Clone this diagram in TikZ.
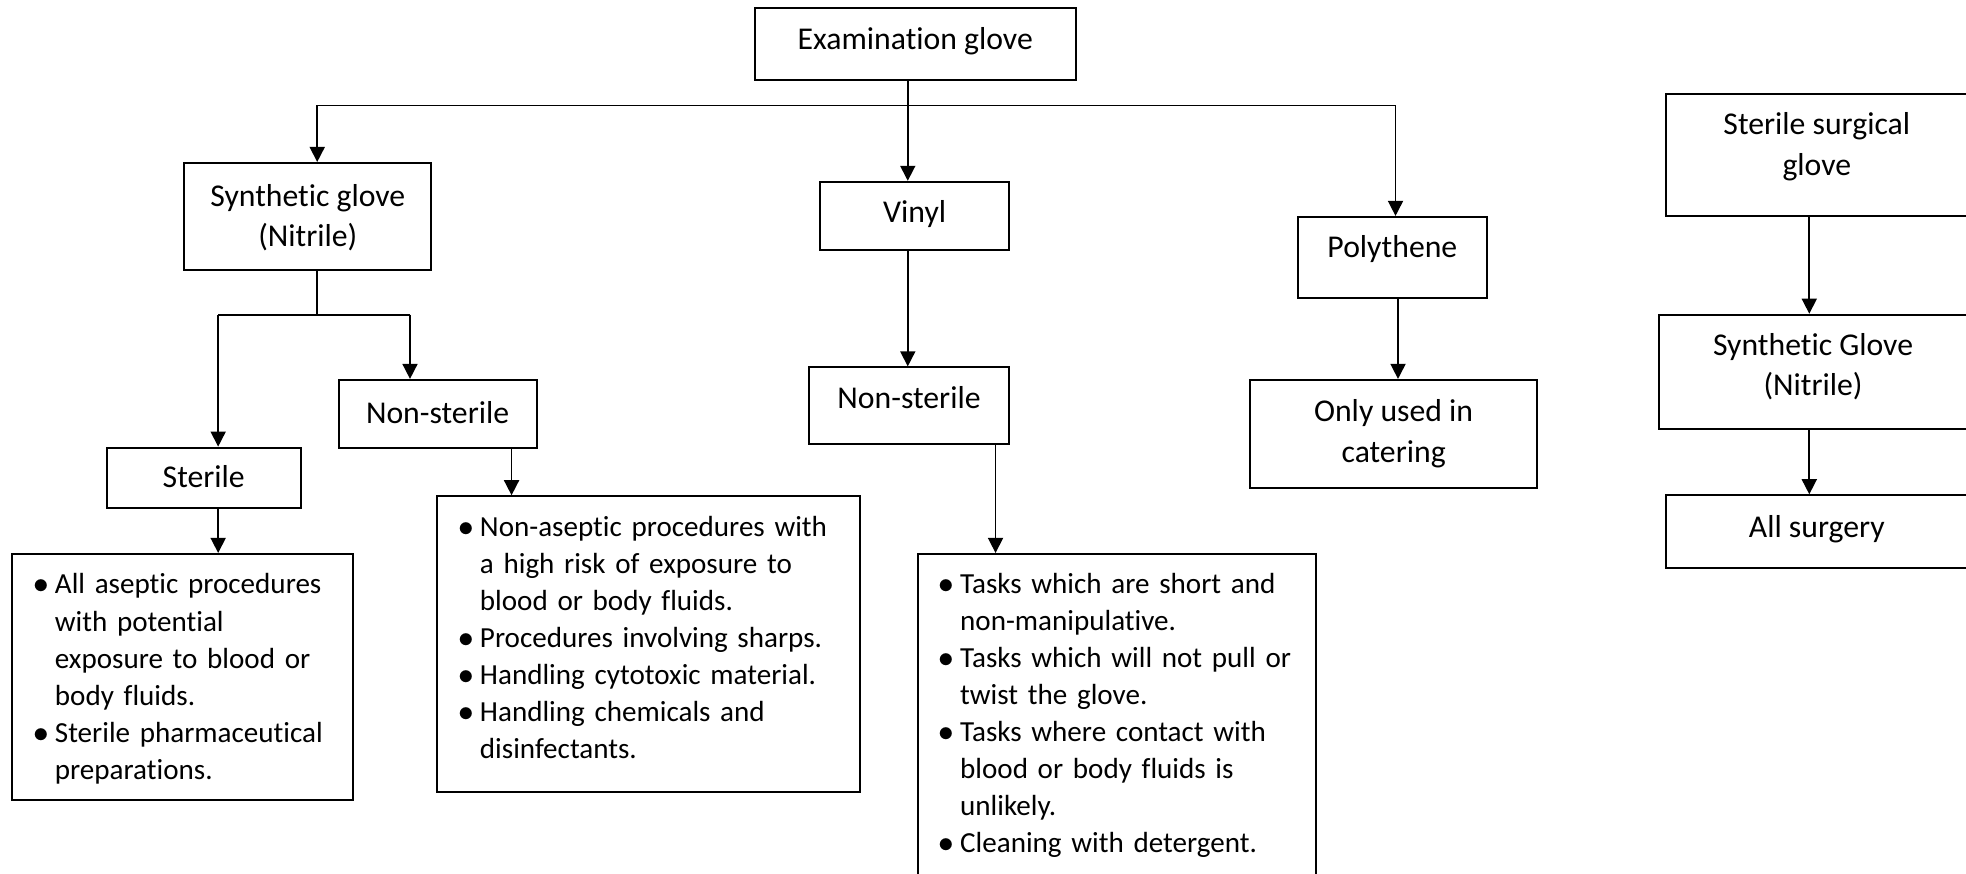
\documentclass[tikz,border=0pt]{standalone}
\usepackage{fontspec}
\setmainfont{Carlito}[Ligatures=NoCommon]
\usepackage{enumitem}
\setlist[itemize]{label=$\bullet$,leftmargin=32pt,labelsep=5pt,topsep=0pt,partopsep=0pt,itemsep=0pt,parsep=0pt}
\usetikzlibrary{arrows.meta}

\begin{document}
\begin{tikzpicture}[x=1pt,y=-1pt,
    caja/.style={draw,line width=1.6pt,inner sep=0pt,anchor=base,align=center,font=\fontsize{25.3}{32.3}\selectfont},
    lista/.style={draw,line width=1.6pt,anchor=north west,inner xsep=2pt,inner ysep=0pt,align=left,font=\fontsize{23.2}{29.6}\selectfont},
    linea/.style={line width=1.3pt},
    flecha/.style={line width=1.3pt,-{Triangle[length=12pt,width=12pt]}}]
  \useasboundingbox (0,0) rectangle (1568,697);
  \clip (0,0) rectangle (1568,697);

  % Cajas
  \node[caja,minimum width=256pt,text height=33.5pt,text depth=24.5pt] (exam) at (730,39.5) {Examination glove};
  \node[caja,minimum width=197pt,text height=66.8pt,text depth=18.2pt] (synth) at (245.5,196.8) {Synthetic glove\\(Nitrile)};
  \node[caja,minimum width=151pt,text height=32.5pt,text depth=21.5pt] (vinyl) at (729.5,177.5) {Vinyl};
  \node[caja,minimum width=151pt,text height=32.5pt,text depth=32.5pt] (poly) at (1110.5,205.5) {Polythene};
  \node[caja,minimum width=158pt,text height=34.5pt,text depth=19.5pt] (nonsterA) at (349,337.5) {Non-sterile};
  \node[caja,minimum width=155pt,text height=31.5pt,text depth=16.5pt] (sterile) at (162.5,388.5) {Sterile};
  \node[caja,minimum width=160pt,text height=32.5pt,text depth=28.5pt] (nonsterB) at (725,325.5) {Non-sterile};
  \node[caja,minimum width=229pt,text height=65.8pt,text depth=20.2pt] (catering) at (1111.5,368.8) {Only used in\\catering};
  \node[caja,minimum width=240pt,text height=64.8pt,text depth=32.2pt] (surg) at (1449,139.8) {Sterile surgical\\glove};
  \node[caja,minimum width=246pt,text height=64.8pt,text depth=26.2pt] (synthR) at (1446,315.8) {Synthetic Glove\\(Nitrile)};
  \node[caja,minimum width=240pt,text height=33.5pt,text depth=24.5pt] (allsurg) at (1449,428.5) {All surgery};

  % Listas
  \node[lista,minimum width=272pt,minimum height=196pt,text width=268pt] (listA) at (9,441) {%
    \begin{itemize}
      \item All aseptic procedures\newline with potential\newline exposure to blood or\newline body fluids.
      \item Sterile pharmaceutical\newline preparations.
    \end{itemize}\par\kern10pt};
  \node[lista,minimum width=337pt,minimum height=236pt,text width=333pt] (listB) at (348,395) {%
    \begin{itemize}
      \item Non-aseptic procedures with\newline a high risk of exposure to\newline blood or body fluids.
      \item Procedures involving sharps.
      \item Handling cytotoxic material.
      \item Handling chemicals and\newline disinfectants.
    \end{itemize}\par\kern24pt};
  \node[lista,minimum width=318pt,minimum height=300pt,text width=314pt] (listC) at (731,441) {%
    \begin{itemize}
      \item Tasks which are short and\newline non-manipulative.
      \item Tasks which will not pull or\newline twist the glove.
      \item Tasks where contact with\newline blood or body fluids is\newline unlikely.
      \item Cleaning with detergent.
    \end{itemize}\par\kern56pt};

  % Conectores
  \coordinate (hub) at (724,84);
  \coordinate (hubL) at (253,84);
  \coordinate (hubR) at (1113,84);
  \coordinate (fork) at (253,251);
  \coordinate (forkL) at (174,251);
  \coordinate (forkR) at (327,251);
  \coordinate (colB) at (408,0);
  \coordinate (colC) at (794,0);
  \coordinate (colP) at (1115,0);
  \coordinate (colS) at (1443,0);

  \draw[linea] (exam.south -| hub) -- (hub);
  \draw[linea] (hubL) -- (hubR);
  \draw[flecha] (hub) -- (vinyl.north -| hub);
  \draw[flecha] (hubL) -- (synth.north -| hubL);
  \draw[flecha] (hubR) -- (poly.north -| hubR);

  \draw[linea] (synth.south -| fork) -- (fork);
  \draw[linea] (forkL) -- (forkR);
  \draw[flecha] (forkL) -- (sterile.north -| forkL);
  \draw[flecha] (forkR) -- (nonsterA.north -| forkR);
  \draw[flecha] (sterile.south -| forkL) -- (listA.north -| forkL);
  \draw[flecha] (nonsterA.south -| colB) -- (listB.north -| colB);

  \draw[flecha] (vinyl.south -| hub) -- (nonsterB.north -| hub);
  \draw[flecha] (nonsterB.south -| colC) -- (listC.north -| colC);
  \draw[flecha] (poly.south -| colP) -- (catering.north -| colP);

  \draw[flecha] (surg.south -| colS) -- (synthR.north -| colS);
  \draw[flecha] (synthR.south -| colS) -- (allsurg.north -| colS);
\end{tikzpicture}
\end{document}
